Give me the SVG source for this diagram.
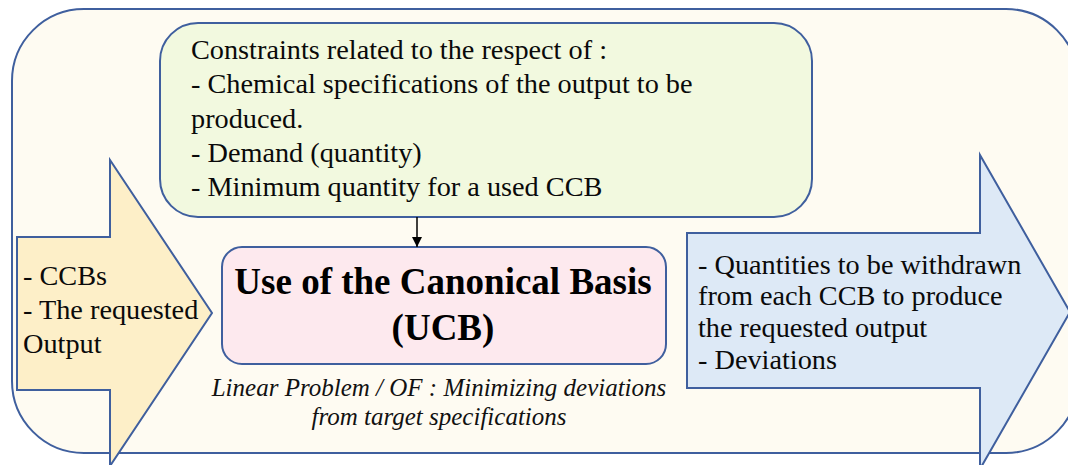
<svg xmlns="http://www.w3.org/2000/svg" width="1068" height="465" viewBox="0 0 1068 465">
<defs>
<style>
.frame{fill:#fefbf2;stroke:#3f5f9e;stroke-width:2}
.box{stroke:#3f5f9e;stroke-width:2}
.t{font-family:"Liberation Serif","Times New Roman",serif;font-size:26.5px;fill:#0a0a0a}
.b{font-family:"Liberation Serif","Times New Roman",serif;font-size:37px;font-weight:bold;fill:#000;text-anchor:middle}
.i{font-family:"Liberation Serif","Times New Roman",serif;font-size:25px;font-style:italic;fill:#111;text-anchor:middle}
</style>
<marker id="ah" viewBox="0 0 10 10" refX="10" refY="5" markerWidth="10" markerHeight="10" markerUnits="userSpaceOnUse" orient="auto">
<path d="M0,0 L10,5 L0,10 z" fill="#000"/>
</marker>
</defs>
<rect class="frame" x="12" y="9" width="1066" height="444" rx="72" ry="72"/>
<g id="constraints">
<rect class="box" x="160" y="23" width="652" height="194" rx="38" ry="38" fill="#f2f9df"/>
<g transform="translate(191 0) scale(1.067 1)">
<text class="t" x="0" y="59">Constraints related to the respect of :</text>
<text class="t" x="0" y="93">- Chemical specifications of the output to be</text>
<text class="t" x="0" y="128">produced.</text>
<text class="t" x="0" y="162">- Demand (quantity)</text>
<text class="t" x="0" y="196">- Minimum quantity for a used CCB</text>
</g>
</g>
<g id="inputs">
<path class="box" fill="#fdefc8" d="M17,237 L110,237 L110,160 L212,313 L110,466 L110,390 L17,390 Z"/>
<g transform="translate(23 0) scale(1.067 1)">
<text class="t" x="0" y="285">- CCBs</text>
<text class="t" x="0" y="319">- The requested</text>
<text class="t" x="0" y="353">Output</text>
</g>
</g>
<g id="ucb">
<rect class="box" x="222" y="247" width="444" height="117" rx="20" ry="20" fill="#fde9ee"/>
<text class="b" x="443" y="294">Use of the Canonical Basis</text>
<text class="b" x="443" y="340">(UCB)</text>
</g>
<g id="objective">
<text class="i" x="439" y="396">Linear Problem / OF : Minimizing deviations</text>
<text class="i" x="439" y="425">from target specifications</text>
</g>
<g id="outputs">
<path class="box" fill="#dde9f6" d="M687,233 L980,233 L980,155 L1070,312 L980,469 L980,388 L687,388 Z"/>
<g transform="translate(698 0) scale(1.067 1)">
<text class="t" x="0" y="274">- Quantities to be withdrawn</text>
<text class="t" x="0" y="305">from each CCB to produce</text>
<text class="t" x="0" y="337">the requested output</text>
<text class="t" x="0" y="369">- Deviations</text>
</g>
</g>
<g id="connectors">
<line x1="417" y1="217" x2="417" y2="247" stroke="#000" stroke-width="1.5" marker-end="url(#ah)"/>
</g>
</svg>
